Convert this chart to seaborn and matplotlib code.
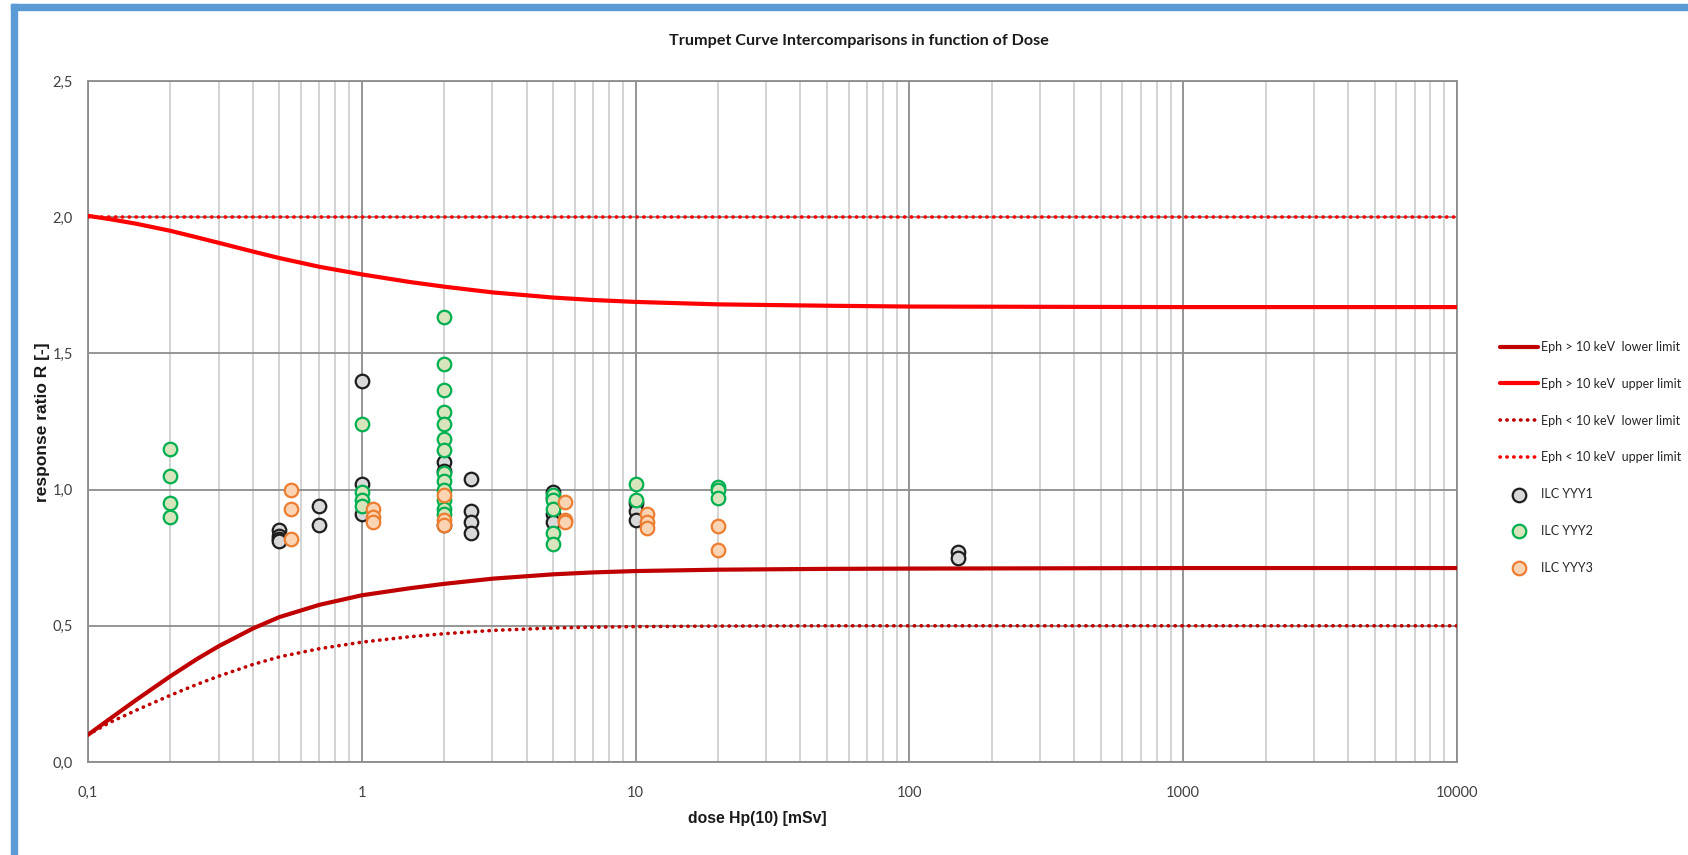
import numpy as np
import pandas as pd
import matplotlib
matplotlib.use("Agg")
import matplotlib.pyplot as plt
from matplotlib.patches import Rectangle
from matplotlib.ticker import FixedLocator, FixedFormatter, MultipleLocator
import seaborn as sns

# ---------------- data ----------------
title = "Trumpet Curve Intercomparisons in function of Dose"
x_label = "dose Hp(10) [mSv]"
y_label = "response ratio R [-]"

x_ticks = [0.1, 1, 10, 100, 1000, 10000]
x_tick_labels = ["0,1", "1", "10", "100", "1000", "10000"]
y_ticks = [0.0, 0.5, 1.0, 1.5, 2.0, 2.5]
y_tick_labels = ["0,0", "0,5", "1,0", "1,5", "2,0", "2,5"]

# limit curves, values
curve_dose = [0.1, 0.12, 0.15, 0.2, 0.25, 0.3, 0.4, 0.5, 0.7, 1, 1.5, 2, 3, 5, 7,
              10, 20, 50, 100, 1000, 10000]
gt10_lower = [0.100, 0.158, 0.228, 0.315, 0.378, 0.425, 0.490, 0.532, 0.577, 0.612,
              0.638, 0.654, 0.673, 0.689, 0.696, 0.701, 0.706, 0.709, 0.710, 0.712,
              0.712]
gt10_upper = [2.005, 1.993, 1.976, 1.950, 1.926, 1.906, 1.874, 1.850, 1.818, 1.790,
              1.762, 1.745, 1.724, 1.705, 1.696, 1.689, 1.680, 1.675, 1.672, 1.670,
              1.670]
lt10_lower = [0.100, 0.145, 0.190, 0.245, 0.285, 0.315, 0.358, 0.386, 0.416, 0.440,
              0.460, 0.471, 0.483, 0.492, 0.495, 0.497, 0.499, 0.500, 0.500, 0.500,
              0.500]
lt10_upper = [2.0, 2.0, 2.0, 2.0, 2.0, 2.0, 2.0, 2.0, 2.0, 2.0, 2.0, 2.0, 2.0, 2.0,
              2.0, 2.0, 2.0, 2.0, 2.0, 2.0, 2.0]

labels_curves = ["Eph > 10 keV  lower limit", "Eph > 10 keV  upper limit",
                 "Eph < 10 keV  lower limit", "Eph < 10 keV  upper limit"]

yyy1_dose = [0.5, 0.5, 0.5, 0.5, 0.7, 0.7, 1, 1, 1, 2, 2, 2, 2.5, 2.5, 2.5, 2.5,
             5, 5, 5, 5, 10, 10, 10, 150, 150]
yyy1_resp = [0.85, 0.83, 0.82, 0.81, 0.94, 0.87, 1.40, 1.02, 0.91, 1.10, 1.07, 0.87,
             1.04, 0.92, 0.88, 0.84, 0.99, 0.97, 0.91, 0.88, 0.95, 0.92, 0.89,
             0.77, 0.75]

yyy2_dose = [0.2, 0.2, 0.2, 0.2, 1, 1, 1, 1,
             2, 2, 2, 2, 2, 2, 2, 2, 2, 2, 2, 2, 2,
             5, 5, 5, 5, 5, 10, 10, 20, 20, 20]
yyy2_resp = [1.15, 1.05, 0.95, 0.90, 1.24, 0.99, 0.96, 0.94,
             1.635, 1.46, 1.365, 1.285, 1.24, 1.185, 1.145, 1.06, 1.03, 1.0, 0.96,
             0.93, 0.91,
             0.98, 0.96, 0.93, 0.84, 0.80, 1.02, 0.96, 1.01, 1.0, 0.97]

yyy3_dose = [0.55, 0.55, 0.55, 1.1, 1.1, 1.1, 2, 2, 2, 5.5, 5.5, 5.5, 11, 11, 11,
             20, 20]
yyy3_resp = [1.0, 0.93, 0.82, 0.93, 0.90, 0.88, 0.98, 0.89, 0.87, 0.955, 0.89, 0.88,
             0.91, 0.88, 0.86, 0.865, 0.78]

series_labels = ["ILC YYY1", "ILC YYY2", "ILC YYY3"]

# ---------------- style ----------------
sns.set_style("white")
plt.rcParams["font.family"] = ["Lato", "DejaVu Sans"]

W, H = 1688, 855
fig = plt.figure(figsize=(W / 100, H / 100), dpi=100)
fig.patch.set_facecolor("white")

# frame (blue border on top and left)
fig.patches.append(Rectangle((11 / W, 1 - 10 / H), 1 - 11 / W, 6 / H,
                             transform=fig.transFigure, color="#5b9bd5", zorder=0))
fig.patches.append(Rectangle((11 / W, 0), 6 / W, 1 - 4 / H,
                             transform=fig.transFigure, color="#5b9bd5", zorder=0))

ax = fig.add_axes([88 / W, 1 - 762 / H, (1457 - 88) / W, (762 - 81) / H])
ax.set_facecolor("white")

dark_red = "#c00000"
red = "#ff0000"
dot = (0, (0.1, 1.8))

sns.lineplot(x=curve_dose, y=gt10_lower, ax=ax, color=dark_red, lw=3,
             label=labels_curves[0], estimator=None, sort=False, zorder=3)
sns.lineplot(x=curve_dose, y=gt10_upper, ax=ax, color=red, lw=3,
             label=labels_curves[1], estimator=None, sort=False, zorder=3)
sns.lineplot(x=curve_dose, y=lt10_lower, ax=ax, color=dark_red, lw=2.6,
             linestyle=dot, dash_capstyle="round",
             label=labels_curves[2], estimator=None, sort=False, zorder=3)
sns.lineplot(x=curve_dose, y=lt10_upper, ax=ax, color=red, lw=2.6,
             linestyle=dot, dash_capstyle="round",
             label=labels_curves[3], estimator=None, sort=False, zorder=3)

ms = 95
sns.scatterplot(x=yyy1_dose, y=yyy1_resp, ax=ax, marker="o", s=ms,
                color="#d9d9d9", edgecolor="#1e1e1e", linewidth=1.6,
                label=series_labels[0], zorder=4)
sns.scatterplot(x=yyy2_dose, y=yyy2_resp, ax=ax, marker="o", s=ms,
                color="#d8e4bc", edgecolor="#00b050", linewidth=1.6,
                label=series_labels[1], zorder=5)
sns.scatterplot(x=yyy3_dose, y=yyy3_resp, ax=ax, marker="o", s=ms,
                color="#fbd4b4", edgecolor="#ed7d31", linewidth=1.6,
                label=series_labels[2], zorder=6)

ax.set_xscale("log")
ax.set_xlim(0.1, 10000)
ax.set_ylim(0, 2.5)

ax.xaxis.set_major_locator(FixedLocator(x_ticks))
ax.xaxis.set_major_formatter(FixedFormatter(x_tick_labels))
minor_x = [m * 10.0 ** e for e in range(-1, 4) for m in range(2, 10)]
ax.xaxis.set_minor_locator(FixedLocator(minor_x))
ax.xaxis.set_minor_formatter(FixedFormatter([""] * len(minor_x)))
ax.yaxis.set_major_locator(FixedLocator(y_ticks))
ax.yaxis.set_major_formatter(FixedFormatter(y_tick_labels))
ax.yaxis.set_minor_locator(MultipleLocator(0.1))

grid_major = "#8c8c8c"
grid_minor = "#d0d0d0"
ax.grid(which="major", axis="both", color=grid_major, lw=1.3, zorder=0)
ax.grid(which="minor", axis="x", color=grid_minor, lw=1.3, zorder=0)
ax.set_axisbelow(True)
for s in ax.spines.values():
    s.set_color(grid_major)
    s.set_linewidth(1.3)

tick_color = "#404040"
ax.tick_params(axis="x", which="major", direction="out", length=6, width=1.2,
               color=grid_major, pad=11, labelsize=10.5, labelcolor=tick_color)
ax.tick_params(axis="x", which="minor", length=0)
ax.tick_params(axis="y", which="major", direction="out", length=5, width=1.2,
               color=grid_major, pad=6, labelsize=10.5, labelcolor=tick_color)
ax.tick_params(axis="y", which="minor", direction="in", length=5, width=1.0,
               color=grid_major)

ax.set_xlabel("")
ax.set_ylabel("")

fig.text(859 / W, 1 - 41 / H, title, ha="center", va="center",
         fontsize=11.6, fontweight="bold", color="#1a1a1a")
fig.text(757 / W, 1 - 818 / H, x_label, ha="center", va="center",
         fontsize=11.3, fontweight="bold", color="#1a1a1a",
         family=["Liberation Sans", "DejaVu Sans"])
fig.text(43 / W, 1 - 422 / H, y_label, ha="center", va="center", rotation=90,
         fontsize=12.5, fontweight="bold", color="#1a1a1a",
         family=["Liberation Sans", "DejaVu Sans"])

handles, labels = ax.get_legend_handles_labels()
leg = ax.legend(handles, labels, loc="upper left",
                bbox_to_anchor=(1500 / W, 1 - 341 / H),
                bbox_transform=fig.transFigure, frameon=False,
                fontsize=9, handlelength=3.0, handletextpad=0.25,
                labelspacing=1.98, borderpad=0, borderaxespad=0,
                scatterpoints=1, markerscale=1.0)
for t in leg.get_texts():
    t.set_color("#262626")

fig.savefig("out.png", dpi=100)
